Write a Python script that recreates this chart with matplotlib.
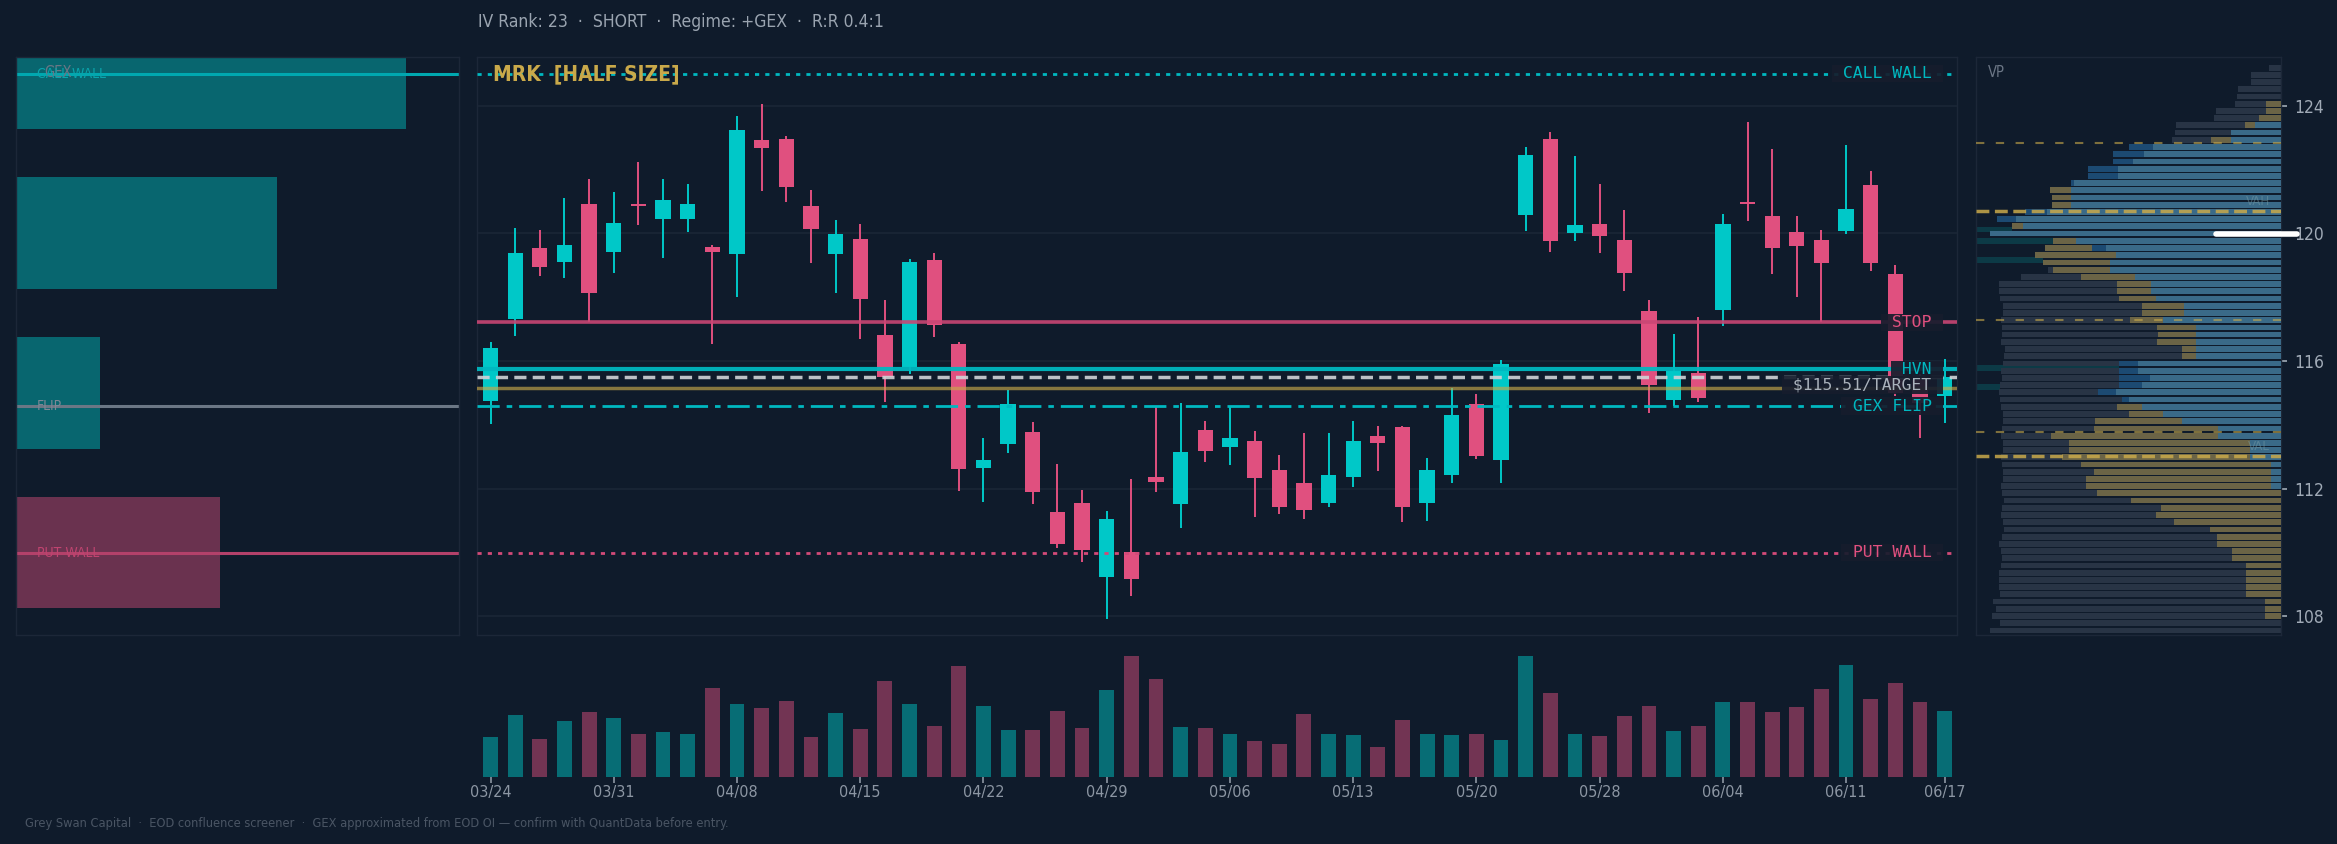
import numpy as np
import pandas as pd
import matplotlib
matplotlib.use('Agg')
import matplotlib.pyplot as plt
import matplotlib.transforms as mtransforms

plt.rcParams['font.family'] = 'DejaVu Sans'
plt.rcParams['font.stretch'] = 'condensed'

BG = '#0f1b2b'
UP = '#00c8c8'
DOWN = '#e0507f'
GOLD = '#c9a94a'
CYAN_LINE = '#00b8c0'
SPINE = '#1c2738'
GRID = '#1b2636'
TXT = '#9aa4b0'

# ---- price data (daily OHLCV) ----
dates = pd.bdate_range('2026-03-24', '2026-06-17', freq='C',
                       holidays=['2026-04-03', '2026-05-25'])

opens = [114.75, 117.33, 119.53, 119.11, 120.92, 119.42, 120.92, 120.45, 120.45, 119.57,
         119.35, 122.92, 122.95, 120.85, 119.35, 119.82, 116.81, 115.82, 119.16, 116.53,
         112.66, 113.40, 113.77, 111.27, 111.55, 109.24, 110.03, 112.37, 111.53, 113.84,
         113.31, 113.49, 112.58, 112.18, 111.56, 112.37, 113.65, 113.93, 111.56, 112.44,
         114.65, 112.90, 120.57, 122.95, 120.02, 120.29, 119.79, 117.56, 114.78, 115.63,
         117.59, 120.98, 120.54, 120.04, 119.79, 120.08, 121.51, 118.72, 115.40, 114.90]
highs = [116.58, 120.15, 120.10, 121.09, 121.69, 121.28, 122.22, 121.69, 121.54, 119.63,
         123.67, 124.04, 123.05, 121.35, 120.41, 120.29, 117.91, 119.21, 119.37, 116.58,
         113.58, 115.09, 114.08, 112.79, 111.95, 111.30, 112.29, 114.57, 114.67, 114.12,
         114.55, 113.81, 113.07, 113.73, 113.73, 114.11, 113.96, 113.98, 112.95, 115.14,
         114.96, 116.03, 122.71, 123.16, 122.41, 121.53, 120.72, 117.91, 116.84, 117.37,
         120.59, 123.47, 122.63, 120.54, 120.10, 122.76, 121.95, 119.00, 115.60, 116.05]
lows = [114.03, 116.79, 118.66, 118.61, 117.23, 118.76, 120.26, 119.23, 120.05, 116.52,
        118.00, 121.33, 120.97, 119.06, 118.14, 116.68, 114.72, 115.59, 116.76, 111.94,
        111.57, 113.13, 111.53, 110.16, 109.70, 107.93, 108.65, 111.91, 110.78, 112.84,
        112.75, 111.12, 111.20, 111.04, 111.42, 112.06, 112.56, 110.97, 111.00, 112.17,
        112.92, 112.17, 120.08, 119.42, 119.77, 119.37, 118.20, 114.38, 114.59, 114.72,
        117.10, 120.37, 118.71, 118.02, 117.23, 119.97, 118.83, 114.90, 113.58, 114.05]
closes = [116.40, 119.37, 118.95, 119.63, 118.14, 120.31, 120.86, 121.04, 120.92, 119.40,
          123.23, 122.68, 121.46, 120.13, 119.98, 117.94, 115.49, 119.11, 117.13, 112.62,
          112.90, 114.65, 111.90, 110.27, 110.09, 111.05, 109.17, 112.22, 113.15, 113.18,
          113.59, 112.34, 111.43, 111.34, 112.43, 113.49, 113.44, 111.43, 112.58, 114.31,
          113.03, 115.90, 122.45, 119.77, 120.26, 119.92, 118.76, 115.25, 115.69, 114.85,
          120.29, 120.91, 119.55, 119.61, 119.08, 120.76, 119.08, 114.99, 114.70, 115.51]
volumes = [4.0, 6.2, 3.8, 5.6, 6.5, 5.9, 4.3, 4.5, 4.3, 8.8,
           7.2, 6.8, 7.5, 4.0, 6.4, 4.8, 9.5, 7.2, 5.1, 11.0,
           7.0, 4.7, 4.7, 6.6, 4.9, 8.6, 12.0, 9.7, 5.0, 4.9,
           4.3, 3.6, 3.3, 6.3, 4.3, 4.2, 3.0, 5.7, 4.3, 4.2,
           4.3, 3.7, 12.0, 8.3, 4.3, 4.1, 6.1, 7.0, 4.6, 5.1,
           7.4, 7.4, 6.5, 6.9, 8.7, 11.1, 7.7, 9.3, 7.4, 6.6]

# ---- levels ----
call_wall = 125.0
put_wall = 110.0
gex_flip = 114.59
stop = 117.21
hvn = 115.74
target = 115.51
entry = 115.17

# ---- GEX by strike ----
gex_strikes = [125, 120, 115, 110]
gex_values = [8.8, 5.9, 1.9, -4.6]

# ---- volume profile (top bin first) ----
vp_lo, vp_hi = 107.45, 125.30
vp_total = [12, 30, 30, 43, 44, 46, 65, 67, 105, 106, 109,
            0, 0, 0, 0, 0, 0, 0, 0, 0, 0, 0, 0, 0, 0, 0, 0, 0,
            233, 260, 282, 282, 281, 278, 278, 280, 279, 279, 280, 276, 277,
            278, 280, 279, 281, 282, 281, 280, 278, 278, 279, 280, 278, 278,
            280, 279, 278, 278, 280, 279, 277, 279, 280, 278, 277, 279, 282,
            280, 279, 280, 282, 282, 282, 281, 288, 285, 289, 281, 291]
vp_month = [0, 0, 0, 0, 0, 15, 15, 22, 36, 0, 70,
            0, 0, 0, 0, 0, 0, 231, 229, 229, 0, 0, 269, 0, 228, 236, 246, 238,
            228, 200, 164, 164, 162, 139, 139, 151, 124, 123, 124, 99, 99,
            0, 0, 0, 0, 0, 0, 164, 152, 186, 187, 230, 212, 212,
            219, 200, 187, 195, 195, 184, 150, 120, 125, 107, 71, 64, 64,
            49, 49, 35, 35, 35, 35, 35, 16, 16, 16, 0, 0]
vp_week = [0, 0, 0, 0, 0, 0, 0, 0, 26, 50, 50,
           128, 137, 148, 163, 163, 207, 210, 210, 210, 234, 265, 258, 291, 205, 175, 165, 171,
           171, 146, 130, 130, 125, 97, 97, 118, 85, 85, 85, 85, 85,
           143, 143, 131, 139, 165, 152, 139, 118, 99, 63, 63, 31, 31,
           31, 10, 10, 10, 10, 0, 0, 0, 0, 0, 0, 0, 0,
           0, 0, 0, 0, 0, 0, 0, 0, 0, 0, 0, 0]
vp_week_sell = [0, 0, 0, 0, 0, 0, 0, 0, 0, 0, 0,
                152, 168, 168, 193, 193, 210, 0, 0, 0, 256, 284, 0, 0, 0, 189, 0, 0,
                0, 0, 0, 0, 0, 0, 0, 0, 0, 0, 0, 0, 0,
                162, 162, 162, 162, 183, 159, 0, 0, 0, 0, 0, 0, 0,
                0, 0, 0, 0, 0, 0, 0, 0, 0, 0, 0, 0, 0,
                0, 0, 0, 0, 0, 0, 0, 0, 0, 0, 0, 0]
node_prices = [120.12, 119.76, 119.17, 115.77, 115.19]
node_sizes = [36, 77, 67, 143, 24]
vah, val = 120.70, 113.04
vp_minor = [122.84, 117.29, 113.78]
VP_MAX = 305

price_ticks = [108, 112, 116, 120, 124]
ylim = (107.42, 125.52)

W, H = 2337, 844
fig = plt.figure(figsize=(W / 100, H / 100), dpi=100, facecolor=BG)

def rect(x0, y0, x1, y1):
    return [x0 / W, 1 - y1 / H, (x1 - x0) / W, (y1 - y0) / H]

ax = fig.add_axes(rect(477, 57, 1957, 635))
axg = fig.add_axes(rect(15.6, 57, 459, 635), sharey=ax)
axp = fig.add_axes(rect(1976, 57, 2281, 635), sharey=ax)
axv = fig.add_axes(rect(477, 644, 1957, 777), sharex=ax)

for a in (ax, axg, axp, axv):
    a.set_facecolor(BG)
    for s in a.spines.values():
        s.set_color(SPINE)
        s.set_linewidth(1)

# ---- candles ----
x = np.arange(len(opens))
o = np.array(opens); c = np.array(closes)
cols = [UP if cc >= oo else DOWN for oo, cc in zip(o, c)]
ax.vlines(x, lows, highs, colors=cols, lw=1.4, zorder=2)
body = np.maximum(np.abs(c - o), 0.06)
ax.bar(x, body, bottom=np.minimum(o, c), width=0.62, color=cols, zorder=2.5)

ax.set_xlim(-0.55, 59.5)
ax.set_ylim(*ylim)
ax.set_yticks(price_ticks)
ax.grid(axis='y', color=GRID, lw=1.2)
ax.set_axisbelow(True)
ax.tick_params(left=False, labelleft=False, bottom=False, labelbottom=False)

ax.axhline(call_wall, color=CYAN_LINE, lw=2, ls=(0, (1.5, 2.2)), zorder=3)
ax.axhline(put_wall, color='#d24a78', lw=2, ls=(0, (1.5, 2.2)), zorder=3)
ax.axhline(stop, color='#c94674', lw=2.6, alpha=0.9, zorder=3)
ax.axhline(hvn, color=CYAN_LINE, lw=3, alpha=0.95, zorder=3)
ax.axhline(target, color='#d0d4d8', lw=2.5, ls=(0, (3.5, 1.8)), alpha=0.9, zorder=3)
ax.axhline(entry, color=GOLD, lw=2.5, alpha=0.65, zorder=3)
ax.axhline(gex_flip, color=CYAN_LINE, lw=2, ls=(0, (8, 2.5, 2, 2.5)), zorder=3)

lab_tr = mtransforms.blended_transform_factory(ax.transAxes, ax.transData)
labels = [(' CALL WALL ', call_wall, CYAN_LINE, 0),
          (' STOP ', stop, DOWN, 0),
          (' HVN ', hvn, CYAN_LINE, 0),
          (f' ${target:.2f}/TARGET ', target, '#a9b1bb', -6),
          (' GEX FLIP ', gex_flip, CYAN_LINE, 0),
          (' PUT WALL ', put_wall, DOWN, 0)]
for txt, yv, col, dy in labels:
    ax.annotate(txt, xy=(0.9895, yv), xycoords=lab_tr, xytext=(0, dy),
                textcoords='offset points', ha='right', va='center',
                family='DejaVu Sans Mono', fontsize=11.8, color=col, zorder=6,
                bbox=dict(boxstyle='square,pad=0.08', fc='#161d2d', ec='none', alpha=0.92))

ax.text(0.0108, 0.9706, 'MRK  [HALF SIZE]', transform=ax.transAxes, color=GOLD,
        fontsize=15, fontweight='bold', va='center', ha='left', zorder=7)

# ---- volume ----
vcols = [UP if cc >= oo else DOWN for oo, cc in zip(o, c)]
axv.bar(x, volumes, width=0.6, color=vcols, alpha=0.48)
axv.set_ylim(0, 13.2)
for s in axv.spines.values():
    s.set_visible(False)
tick_idx = list(range(0, len(dates), 5)) + [len(dates) - 1]
axv.set_xticks(tick_idx)
axv.set_xticklabels([dates[i].strftime('%m/%d') for i in tick_idx])
axv.tick_params(axis='x', colors='#8c96a3', labelsize=11.5, length=4, width=1.2, pad=2)
axv.tick_params(axis='y', left=False, labelleft=False)

# ---- GEX panel ----
gcols = [UP if v > 0 else DOWN for v in gex_values]
axg.barh(gex_strikes, np.abs(gex_values), height=3.5, color=gcols, alpha=0.44)
axg.set_xlim(0, 10)
axg.axhline(call_wall, color='#00a8b0', lw=2.2)
axg.axhline(gex_flip, color='#6b7785', lw=2.2)
axg.axhline(put_wall, color='#b3416a', lw=2.2)
axg.tick_params(left=False, labelleft=False, bottom=False, labelbottom=False)
gtr = mtransforms.blended_transform_factory(axg.transAxes, axg.transData)
axg.text(0.065, 0.974, 'GEX', transform=axg.transAxes, color='#6b7685',
         fontsize=10.5, va='center', ha='left')
axg.text(0.048, call_wall, 'CALL WALL', transform=gtr, color='#0aa5ad',
         fontsize=10, va='center', ha='left')
axg.text(0.048, gex_flip, 'FLIP', transform=gtr, color='#7d8896',
         fontsize=10, va='center', ha='left')
axg.text(0.048, put_wall, 'PUT WALL', transform=gtr, color='#c04470',
         fontsize=10, va='center', ha='left')

# ---- volume profile panel ----
edges = np.linspace(vp_lo, vp_hi, len(vp_total) + 1)
centers = ((edges[:-1] + edges[1:]) / 2)[::-1]
bh = (vp_hi - vp_lo) / len(vp_total) * 0.8
axp.barh(node_prices, node_sizes, left=VP_MAX - np.array(node_sizes), height=bh,
         color='#0c3a46', zorder=1)
axp.barh(centers, vp_total, height=bh, color='#283445', zorder=2)
axp.barh(centers, vp_month, height=bh, color='#6b6446', zorder=3)
axp.barh(centers, vp_week_sell, height=bh, color='#1c4a72', zorder=4)
axp.barh(centers, vp_week, height=bh, color='#3a6a88', zorder=5)
axp.set_xlim(VP_MAX, 0)
axp.axhline(vah, color=GOLD, lw=2.5, ls=(0, (3.7, 1.6)), alpha=0.85, zorder=6)
axp.axhline(val, color=GOLD, lw=2.5, ls=(0, (3.7, 1.6)), alpha=0.85, zorder=6)
for lv in vp_minor:
    axp.axhline(lv, color=GOLD, lw=1.5, ls=(0, (4, 5.5)), alpha=0.6, zorder=6)
poc = centers[int(np.argmax(vp_week))]
axp.axhline(poc, xmin=0.787, xmax=1.052, color='white', lw=4, clip_on=False,
            zorder=9, solid_capstyle='round')
ptr = mtransforms.blended_transform_factory(axp.transAxes, axp.transData)
axp.annotate('VAH', xy=(0.964, vah), xycoords=ptr, xytext=(0, 2),
             textcoords='offset points', ha='right', va='bottom',
             color='#7aa0a8', alpha=0.45, fontsize=9.5, zorder=7)
axp.annotate('VAL', xy=(0.964, val), xycoords=ptr, xytext=(0, 2),
             textcoords='offset points', ha='right', va='bottom',
             color='#7aa0a8', alpha=0.45, fontsize=9.5, zorder=7)
axp.text(0.04, 0.974, 'VP', transform=axp.transAxes, color='#6b7685',
         fontsize=10.5, va='center', ha='left')
axp.yaxis.tick_right()
axp.set_yticks(price_ticks)
axp.tick_params(axis='y', colors='#a0aab6', labelsize=12.5, length=4.5, width=1.2, pad=5,
                left=False, labelleft=False)
axp.tick_params(axis='x', bottom=False, labelbottom=False)

# ---- header / footer ----
fig.text(478 / W, 1 - 22 / H, 'IV Rank: 23  \u00b7  SHORT  \u00b7  Regime: +GEX  \u00b7  R:R 0.4:1',
         color=TXT, fontsize=12.6, va='center', ha='left')
fig.text(25 / W, 1 - 823 / H,
         'Grey Swan Capital  \u00b7  EOD confluence screener  \u00b7  GEX approximated from EOD OI '
         '\u2014 confirm with QuantData before entry.',
         color='#4a5564', fontsize=9.2, va='center', ha='left')

fig.savefig('out.png', dpi=100, facecolor=BG)
